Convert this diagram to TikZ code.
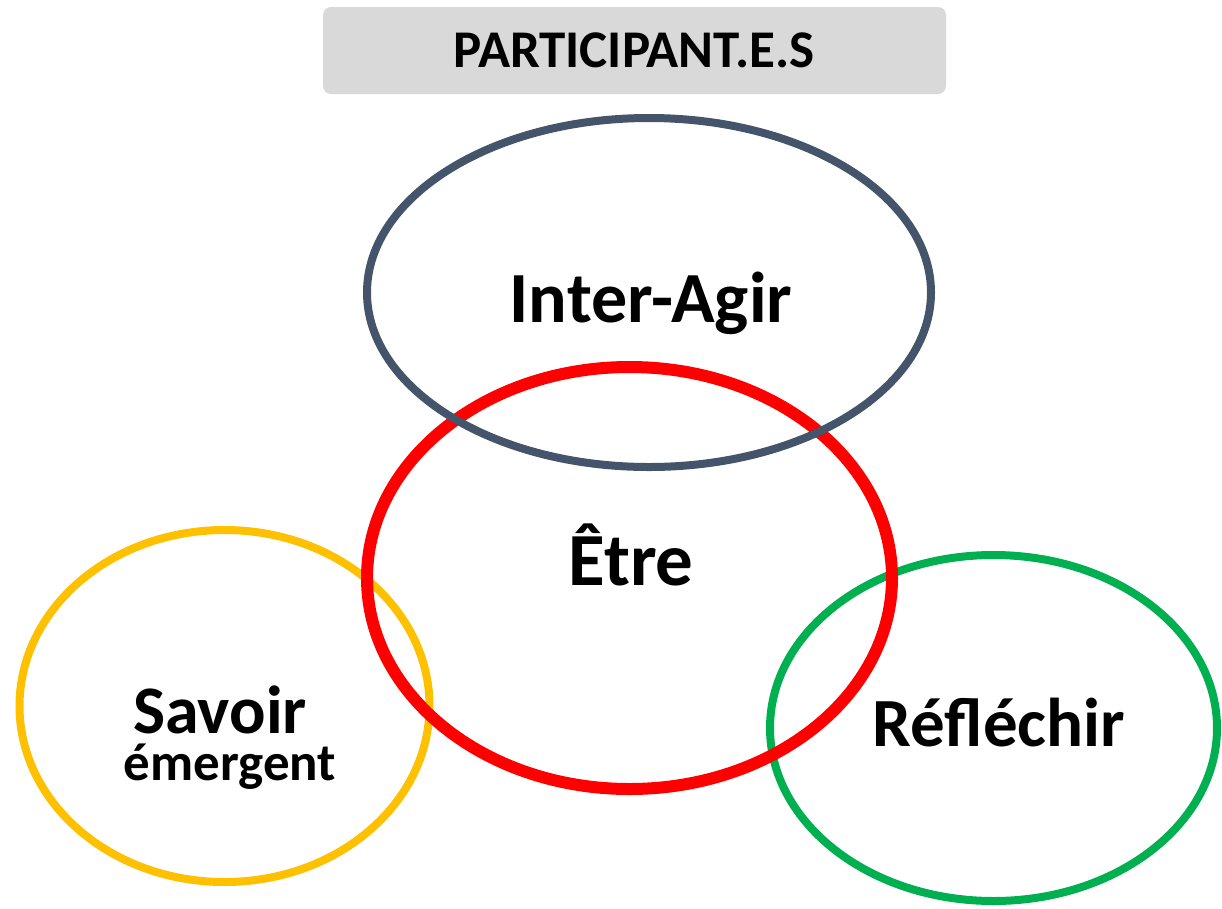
\documentclass[tikz,border=0pt]{standalone}
\usepackage{fontspec}
\setmainfont{Carlito}
\definecolor{slate}{HTML}{44546A}
\definecolor{gold}{HTML}{FFC000}
\definecolor{leaf}{HTML}{00B050}
\definecolor{boxgray}{HTML}{D9D9D9}
\tikzset{
  lbl/.style={font=\bfseries, text=black, inner sep=0pt, anchor=base},
}
\begin{document}
\begin{tikzpicture}[x=1pt,y=-1pt]
\useasboundingbox (0,0) rectangle (1222,908);
\node[fill=boxgray, rounded corners=8pt, minimum width=623pt, minimum height=87pt, inner sep=0pt] (head) at (634.5,50.5) {};
\node[lbl, font=\bfseries\fontsize{53}{60}\selectfont] (headtxt) at (634,67) {PARTICIPANT.E.S};
% rings
\draw[gold, line width=8pt] (224.5,706) ellipse [x radius=205, y radius=176];
\draw[leaf, line width=8pt] (993.5,728) ellipse [x radius=223.5, y radius=173];
\draw[red, line width=12pt] (629.5,578) ellipse [x radius=262.5, y radius=211];
\draw[slate, line width=8pt] (649,292.5) ellipse [x radius=282, y radius=174.5];
% labels
\node[lbl, font=\bfseries\fontsize{72}{80}\selectfont] (inter) at (651,322) {Inter-Agir};
\node[lbl, font=\bfseries\fontsize{75}{80}\selectfont] (etre) at (631,585) {Être};
\node[lbl, font=\bfseries\fontsize{68}{70}\selectfont] (savoir) at (220,733) {Savoir};
\node[lbl, font=\bfseries\fontsize{53}{60}\selectfont] (emerg) at (230,780) {émergent};
\node[lbl, font=\bfseries\fontsize{69}{70}\selectfont] (refl) at (999,746) {Réfléchir};
\end{tikzpicture}
\end{document}
